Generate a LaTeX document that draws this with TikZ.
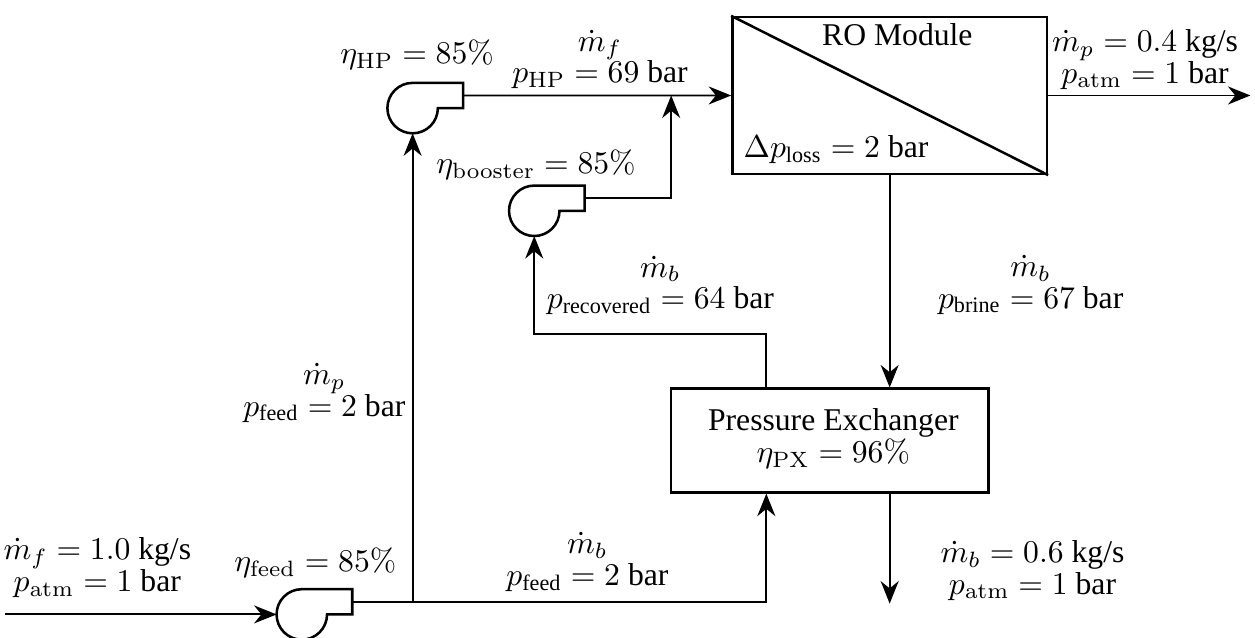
\documentclass[tikz,border=0pt]{standalone}
\usepackage[no-math]{fontspec}
\setmainfont{Liberation Serif}
\newfontfamily\tnr{Liberation Serif}
\usetikzlibrary{arrows.meta}

% text subscript in Times
\newcommand{\tsub}[1]{\mbox{\tnr\scriptsize #1}}

\tikzset{
  pipe/.style={semithick},
  flow/.style={semithick, -{Stealth[length=2.5mm, width=2mm]}},
  unit/.style={draw, thick, inner sep=0pt},
  lbl/.style={align=center, inner sep=0pt},
  pics/pump/.style={code={
    \draw [thick] (0.28, 0) arc [start angle=0, end angle=-270, radius=0.28]
          -- (0.56, 0.28) -- (0.56, 0) -- cycle;
    \coordinate (-in) at (-0.28, 0);
    \coordinate (-bot) at (0, -0.28);
    \coordinate (-out) at (0.56, 0.14);
  }}
}

\begin{document}
\begin{tikzpicture}
    \useasboundingbox (0, 0) rectangle (13.93, 7.08);

    % RO module
    \node [unit, minimum width=3.49cm, minimum height=1.74cm] (ro) at (9.875, 6.02) {};
    \draw [thick] (ro.north west) -- (ro.south east);
    \node (rotitle) at (9.96, 6.69) {RO Module};
    \node (roloss) at (9.28, 5.42) {$\Delta p_{\tsub{loss}} = 2$ bar};

    % Pressure exchanger
    \node [unit, minimum width=3.52cm, minimum height=1.15cm] (px) at (9.21, 2.19) {};
    \node [lbl] (pxtext) at (9.25, 2.21) {Pressure Exchanger\\[-2pt] $\eta_{\mathrm{PX}} = 96\%$};
    \path (px.north west) ++(1.07, 0) coordinate (pxhigh);
    \path (px.south west) ++(1.07, 0) coordinate (pxlow);

    % Pumps
    \pic (fp) at (3.35, 0.26) {pump};
    \pic (hp) at (4.58, 5.88) {pump};
    \pic (bo) at (5.93, 4.74) {pump};
    \node (fpeta) at (3.50, 0.83) {$\eta_{\mathrm{feed}} = 85\%$};
    \node (hpeta) at (4.63, 6.47) {$\eta_{\mathrm{HP}} = 85\%$};
    \node (boeta) at (5.95, 5.25) {$\eta_{\mathrm{booster}} = 85\%$};

    % Free ends and junctions
    \coordinate (src) at (0.06, 0.26);
    \coordinate (split) at (fp-out -| hp-bot);
    \coordinate (merge) at (7.45, 6.02);
    \coordinate (permeate) at (13.88, 6.02);
    \coordinate (reject) at (9.875, 0.38);

    % Feed side
    \draw [flow] (src) -- (fp-in);
    \draw [pipe] (fp-out) -- (split);
    \draw [flow] (split) -- (hp-bot);
    \draw [flow] (split) -| (pxlow);
    \draw [flow] (hp-out) -- (ro.west);

    % Brine side
    \draw [flow] (ro.south) -- (ro.south |- px.north);
    \draw [flow] (pxhigh) -- ++(0, 0.59) -| (bo-bot);
    \draw [flow] (bo-out) -| (merge);
    \draw [flow] (ro.east) -- (permeate);
    \draw [flow] (px.south -| ro.south) -- (reject);

    % Stream labels
    \node [lbl] (lfeed) at (1.08, 0.78) {$\dot{m}_f = 1.0$ kg/s\\[-2pt] $p_{\mathrm{atm}} = 1$ bar};
    \node [lbl] (lpxin) at (6.52, 0.84) {$\dot{m}_b$\\[-2pt] $p_{\tsub{feed}} = 2$ bar};
    \node [lbl] (lhpin) at (3.60, 2.72) {$\dot{m}_p$\\[-2pt] $p_{\tsub{feed}} = 2$ bar};
    \node [lbl] (lhpout) at (6.66, 6.42) {$\dot{m}_f$\\[-2pt] $p_{\mathrm{HP}} = 69$ bar};
    \node [lbl] (lperm) at (12.71, 6.42) {$\dot{m}_p = 0.4$ kg/s\\[-2pt] $p_{\mathrm{atm}} = 1$ bar};
    \node [lbl] (lbrine) at (11.44, 3.92) {$\dot{m}_b$\\[-2pt] $p_{\tsub{brine}} = 67$ bar};
    \node [lbl] (lrec) at (7.33, 3.91) {$\dot{m}_b$\\[-2pt] $p_{\tsub{recovered}} = 64$ bar};
    \node [lbl] (lreject) at (11.46, 0.75) {$\dot{m}_b = 0.6$ kg/s\\[-2pt] $p_{\mathrm{atm}} = 1$ bar};
\end{tikzpicture}
\end{document}
